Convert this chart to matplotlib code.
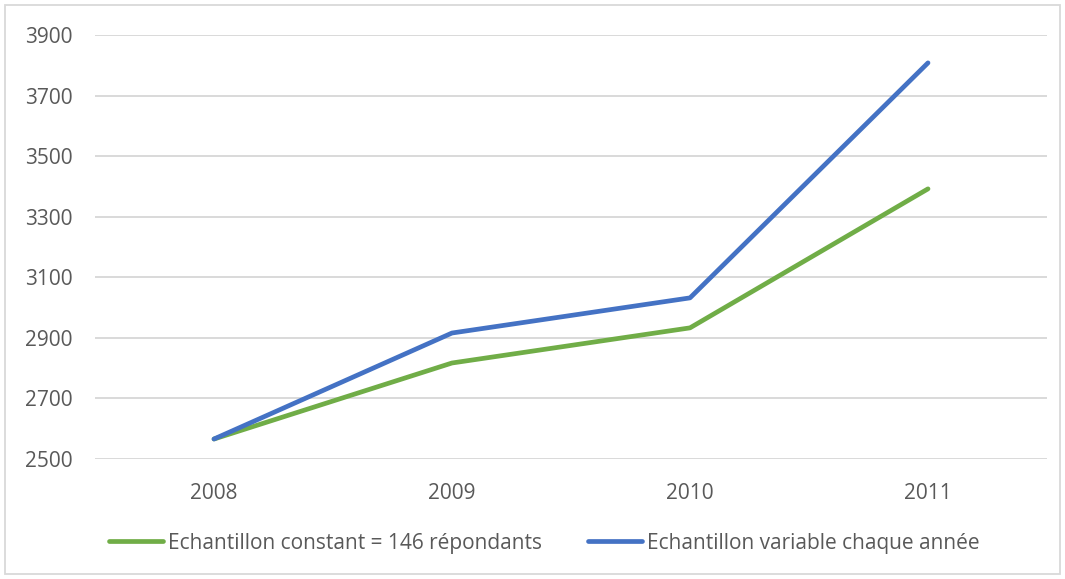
#!/usr/bin/env python3
"""Line chart: two sample series 2008-2011."""

import matplotlib
matplotlib.use('Agg')
import matplotlib.pyplot as plt
from matplotlib.patches import Rectangle

# Data
years = ['2008', '2009', '2010', '2011']
constant_sample = [2566, 2817, 2933, 3392]
variable_sample = [2566, 2916, 3032, 3808]
y_ticks = [2500, 2700, 2900, 3100, 3300, 3500, 3700, 3900]

label_constant = 'Echantillon constant = 146 répondants'
label_variable = 'Echantillon variable chaque année'

plt.rcParams['font.family'] = ['Open Sans', 'DejaVu Sans']

text_color = '#595959'
grid_color = '#D9D9D9'

fig = plt.figure(figsize=(10.65, 5.79), dpi=100)
ax = fig.add_axes([95 / 1065, 1 - 459 / 579, 952 / 1065, 424 / 579])

x = range(len(years))
ax.plot(x, constant_sample, color='#70AD47', lw=3.4, solid_capstyle='round',
        solid_joinstyle='round', label=label_constant, zorder=3)
ax.plot(x, variable_sample, color='#4472C4', lw=3.4, solid_capstyle='round',
        solid_joinstyle='round', label=label_variable, zorder=4)

ax.set_xlim(-0.5, len(years) - 0.5)
ax.set_ylim(y_ticks[0], y_ticks[-1])
ax.set_xticks(list(x))
ax.set_xticklabels(years)
ax.set_yticks(y_ticks)

# Grid and axes styling
ax.grid(axis='y', color=grid_color, lw=1.4)
ax.set_axisbelow(True)
for s in ax.spines.values():
    s.set_visible(False)
ax.tick_params(length=0, labelsize=15, colors=text_color)
ax.tick_params(axis='y', pad=16)
ax.tick_params(axis='x', pad=17)
for line in ax.get_lines():
    line.set_clip_on(False)

# Legend below the plot
fig.legend(loc='center', bbox_to_anchor=(0.5 + 12 / 1065, 1 - 543 / 579), ncol=2,
           frameon=False, fontsize=15, labelcolor=text_color,
           handlelength=2.6, handletextpad=0.25, columnspacing=2.2)

# Light border around the chart area
fig.patches.append(Rectangle((5 / 1065, 5 / 579), 1055 / 1065, 569 / 579,
                             transform=fig.transFigure, fill=False,
                             edgecolor=grid_color, lw=1.3))

fig.savefig('out.png', dpi=100)
